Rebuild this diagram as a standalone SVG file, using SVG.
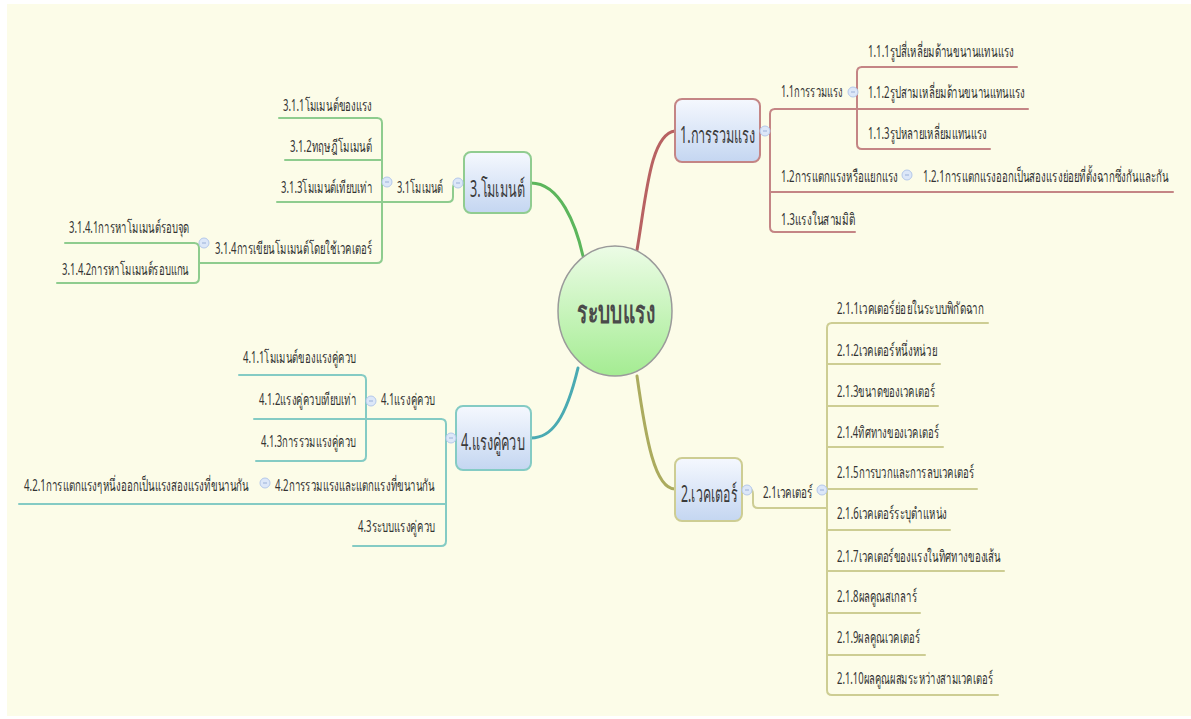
<svg xmlns="http://www.w3.org/2000/svg" width="1191" height="719" viewBox="0 0 1191 719">
  <defs>
    <linearGradient id="boxFill" x1="0" y1="0" x2="0" y2="1">
      <stop offset="0" stop-color="#F5F8FE"/>
      <stop offset="1" stop-color="#C4D6F1"/>
    </linearGradient>
    <linearGradient id="hubFill" x1="0" y1="0" x2="0" y2="1">
      <stop offset="0" stop-color="#ECFCE6"/>
      <stop offset="1" stop-color="#A4EC92"/>
    </linearGradient>
    <symbol id="fold" viewBox="-6 -6 12 12" overflow="visible">
      <circle r="5" fill="#DCE7F8" stroke="#B4C8EA" stroke-width="1"/>
      <line x1="-2" y1="0" x2="2" y2="0" stroke="#9AB0D8" stroke-width="1"/>
    </symbol>
  </defs>
  <style>
    text { font-family: "Noto Sans", "DejaVu Sans", sans-serif; fill: #333333; }
    .sub { font-size: 16px; }
    .topic { font-size: 23px; fill: #3a3a3a; }
    .hub { font-size: 31px; font-weight: bold; fill: #4a4a4a; }
    .box { fill: url(#boxFill); stroke-width: 2; }
    .ln { fill: none; stroke-width: 2; stroke-linecap: round; }
    .main { fill: none; stroke-width: 3; stroke-linecap: round; }
    .r { stroke: #C48585; }
    .g { stroke: #8ECC8E; }
    .t { stroke: #84CBC4; }
    .o { stroke: #CDCD93; }
  </style>

  <!-- page background -->
  <rect x="0" y="0" width="1191" height="719" fill="#FFFFFF"/>
  <rect x="7" y="4" width="1184" height="712" fill="#FCFCE8"/>

  <!-- connectors -->
  <g id="connectors">
    <!-- hub to main topics -->
    <path class="main" stroke="#B86262" d="M637,250 C646,198 650,134 675,131"/>
    <path class="main" stroke="#5CB65C" d="M531,183 C560,183 576,225 583,256"/>
    <path class="main" stroke="#4AAAB2" d="M578,368 C566,418 552,438 531,438"/>
    <path class="main" stroke="#ABAB5E" d="M637,376 C646,440 655,489 675,489"/>

    <!-- 1. branch -->
    <path class="ln r" d="M760,131 H770"/>
    <path class="ln r" d="M775,109 Q770,109 770,114 V227 Q770,232 775,232 H855"/>
    <path class="ln r" d="M775,109 H1028"/>
    <path class="ln r" d="M770,192 H1173"/>
    <path class="ln r" d="M862,67 Q857,67 857,72 V144 Q857,149 862,149 H990"/>
    <path class="ln r" d="M862,67 H1017"/>

    <!-- 3. branch -->
    <path class="ln g" d="M464,183 H457 Q453,183 453,188 V197 Q453,202 448,202 H277"/>
    <path class="ln g" d="M377,118 Q382,118 382,123 V258 Q382,263 377,263 H200"/>
    <path class="ln g" d="M377,118 H279"/>
    <path class="ln g" d="M382,160 H285"/>
    <path class="ln g" d="M194,243 Q199,243 199,248 V278 Q199,283 194,283 H57"/>
    <path class="ln g" d="M194,243 H65"/>

    <!-- 4. branch -->
    <path class="ln t" d="M456,438 H446"/>
    <path class="ln t" d="M441,419 Q446,419 446,424 V541 Q446,546 441,546 H353"/>
    <path class="ln t" d="M441,419 H254"/>
    <path class="ln t" d="M446,504 H19"/>
    <path class="ln t" d="M361,375 Q366,375 366,380 V456 Q366,461 361,461 H256"/>
    <path class="ln t" d="M361,375 H239"/>

    <!-- 2. branch -->
    <path class="ln o" d="M742,489 H749 Q753,489 753,494 V503 Q753,508 758,508 H827"/>
    <path class="ln o" d="M832,323 Q827,323 827,328 V690 Q827,695 832,695 H998"/>
    <path class="ln o" d="M832,323 H988"/>
    <path class="ln o" d="M827,364 H940"/>
    <path class="ln o" d="M827,406 H938"/>
    <path class="ln o" d="M827,447 H943"/>
    <path class="ln o" d="M827,489 H977"/>
    <path class="ln o" d="M827,530 H950"/>
    <path class="ln o" d="M827,571 H1004"/>
    <path class="ln o" d="M827,613 H920"/>
    <path class="ln o" d="M827,655 H925"/>
  </g>

  <!-- central topic -->
  <g id="hub">
    <ellipse cx="615" cy="311" rx="57" ry="65" fill="url(#hubFill)" stroke="#9A9A9A" stroke-width="1.5"/>
    <text class="hub" x="616" y="323" text-anchor="middle" textLength="78" lengthAdjust="spacingAndGlyphs">ระบบแรง</text>
  </g>

  <!-- 1. การรวมแรง -->
  <g id="topic-1">
    <rect class="box" x="675" y="99" width="85" height="63" rx="7" stroke="#C48585"/>
    <text class="topic" x="680" y="143" textLength="75" lengthAdjust="spacingAndGlyphs">1.การรวมแรง</text>
    <use href="#fold" x="759" y="125" width="12" height="12"/>
  </g>
  <g id="topic-1-1">
    <text class="sub" x="781" y="97" textLength="62" lengthAdjust="spacingAndGlyphs">1.1การรวมแรง</text>
    <use href="#fold" x="847" y="86" width="12" height="12"/>
  </g>
  <g id="topic-1-1-1"><text class="sub" x="868" y="57" textLength="146" lengthAdjust="spacingAndGlyphs">1.1.1รูปสี่เหลี่ยมด้านขนานแทนแรง</text></g>
  <g id="topic-1-1-2"><text class="sub" x="868" y="98" textLength="157" lengthAdjust="spacingAndGlyphs">1.1.2รูปสามเหลี่ยมด้านขนานแทนแรง</text></g>
  <g id="topic-1-1-3"><text class="sub" x="868" y="139" textLength="119" lengthAdjust="spacingAndGlyphs">1.1.3รูปหลายเหลี่ยมแทนแรง</text></g>
  <g id="topic-1-2">
    <text class="sub" x="781" y="182" textLength="117" lengthAdjust="spacingAndGlyphs">1.2การแตกแรงหรือแยกแรง</text>
    <use href="#fold" x="901" y="169" width="12" height="12"/>
  </g>
  <g id="topic-1-2-1"><text class="sub" x="923" y="182" textLength="246" lengthAdjust="spacingAndGlyphs">1.2.1การแตกแรงออกเป็นสองแรงย่อยที่ตั้งฉากซึ่งกันและกัน</text></g>
  <g id="topic-1-3"><text class="sub" x="781" y="225" textLength="74" lengthAdjust="spacingAndGlyphs">1.3แรงในสามมิติ</text></g>

  <!-- 3. โมเมนต์ -->
  <g id="topic-3">
    <rect class="box" x="464" y="152" width="67" height="61" rx="7" stroke="#90CC90"/>
    <text class="topic" x="470" y="197" textLength="55" lengthAdjust="spacingAndGlyphs">3.โมเมนต์</text>
    <use href="#fold" x="452" y="177" width="12" height="12"/>
  </g>
  <g id="topic-3-1">
    <text class="sub" x="397" y="193" textLength="46" lengthAdjust="spacingAndGlyphs">3.1โมเมนต์</text>
    <use href="#fold" x="381" y="176" width="12" height="12"/>
  </g>
  <g id="topic-3-1-1"><text class="sub" x="283" y="111" textLength="89" lengthAdjust="spacingAndGlyphs">3.1.1โมเมนต์ของแรง</text></g>
  <g id="topic-3-1-2"><text class="sub" x="290" y="152" textLength="82" lengthAdjust="spacingAndGlyphs">3.1.2ทฤษฎีโมเมนต์</text></g>
  <g id="topic-3-1-3"><text class="sub" x="281" y="193" textLength="91" lengthAdjust="spacingAndGlyphs">3.1.3โมเมนต์เทียบเท่า</text></g>
  <g id="topic-3-1-4">
    <text class="sub" x="215" y="254" textLength="157" lengthAdjust="spacingAndGlyphs">3.1.4การเขียนโมเมนต์โดยใช้เวคเตอร์</text>
    <use href="#fold" x="198" y="237" width="12" height="12"/>
  </g>
  <g id="topic-3-1-4-1"><text class="sub" x="69" y="233" textLength="120" lengthAdjust="spacingAndGlyphs">3.1.4.1การหาโมเมนต์รอบจุด</text></g>
  <g id="topic-3-1-4-2"><text class="sub" x="62" y="275" textLength="127" lengthAdjust="spacingAndGlyphs">3.1.4.2การหาโมเมนต์รอบแกน</text></g>

  <!-- 4. แรงคู่ควบ -->
  <g id="topic-4">
    <rect class="box" x="456" y="406" width="75" height="64" rx="7" stroke="#84CBC4"/>
    <text class="topic" x="461" y="450" textLength="64" lengthAdjust="spacingAndGlyphs">4.แรงคู่ควบ</text>
    <use href="#fold" x="445" y="432" width="12" height="12"/>
  </g>
  <g id="topic-4-1">
    <text class="sub" x="381" y="405" textLength="54" lengthAdjust="spacingAndGlyphs">4.1แรงคู่ควบ</text>
    <use href="#fold" x="365" y="395" width="12" height="12"/>
  </g>
  <g id="topic-4-1-1"><text class="sub" x="243" y="363" textLength="113" lengthAdjust="spacingAndGlyphs">4.1.1โมเมนต์ของแรงคู่ควบ</text></g>
  <g id="topic-4-1-2"><text class="sub" x="259" y="405" textLength="97" lengthAdjust="spacingAndGlyphs">4.1.2แรงคู่ควบเทียบเท่า</text></g>
  <g id="topic-4-1-3"><text class="sub" x="261" y="447" textLength="95" lengthAdjust="spacingAndGlyphs">4.1.3การรวมแรงคู่ควบ</text></g>
  <g id="topic-4-2">
    <text class="sub" x="275" y="491" textLength="160" lengthAdjust="spacingAndGlyphs">4.2การรวมแรงและแตกแรงที่ขนานกัน</text>
    <use href="#fold" x="259" y="477" width="12" height="12"/>
  </g>
  <g id="topic-4-2-1"><text class="sub" x="24" y="491" textLength="225" lengthAdjust="spacingAndGlyphs">4.2.1การแตกแรงๆหนึ่งออกเป็นแรงสองแรงที่ขนานกัน</text></g>
  <g id="topic-4-3"><text class="sub" x="358" y="532" textLength="77" lengthAdjust="spacingAndGlyphs">4.3ระบบแรงคู่ควบ</text></g>

  <!-- 2. เวคเตอร์ -->
  <g id="topic-2">
    <rect class="box" x="675" y="458" width="67" height="63" rx="7" stroke="#CDCD93"/>
    <text class="topic" x="681" y="502" textLength="56" lengthAdjust="spacingAndGlyphs">2.เวคเตอร์</text>
    <use href="#fold" x="741" y="484" width="12" height="12"/>
  </g>
  <g id="topic-2-1">
    <text class="sub" x="763" y="498" textLength="50" lengthAdjust="spacingAndGlyphs">2.1เวคเตอร์</text>
    <use href="#fold" x="816" y="484" width="12" height="12"/>
  </g>
  <g id="topic-2-1-1"><text class="sub" x="837" y="314" textLength="147" lengthAdjust="spacingAndGlyphs">2.1.1เวคเตอร์ย่อยในระบบพิกัดฉาก</text></g>
  <g id="topic-2-1-2"><text class="sub" x="837" y="356" textLength="100" lengthAdjust="spacingAndGlyphs">2.1.2เวคเตอร์หนึ่งหน่วย</text></g>
  <g id="topic-2-1-3"><text class="sub" x="837" y="397" textLength="98" lengthAdjust="spacingAndGlyphs">2.1.3ขนาดของเวคเตอร์</text></g>
  <g id="topic-2-1-4"><text class="sub" x="837" y="438" textLength="102" lengthAdjust="spacingAndGlyphs">2.1.4ทิศทางของเวคเตอร์</text></g>
  <g id="topic-2-1-5"><text class="sub" x="837" y="478" textLength="137" lengthAdjust="spacingAndGlyphs">2.1.5การบวกและการลบเวคเตอร์</text></g>
  <g id="topic-2-1-6"><text class="sub" x="837" y="519" textLength="110" lengthAdjust="spacingAndGlyphs">2.1.6เวคเตอร์ระบุตำแหน่ง</text></g>
  <g id="topic-2-1-7"><text class="sub" x="837" y="562" textLength="164" lengthAdjust="spacingAndGlyphs">2.1.7เวคเตอร์ของแรงในทิศทางของเส้น</text></g>
  <g id="topic-2-1-8"><text class="sub" x="837" y="602" textLength="80" lengthAdjust="spacingAndGlyphs">2.1.8ผลคูณสเกลาร์</text></g>
  <g id="topic-2-1-9"><text class="sub" x="837" y="643" textLength="83" lengthAdjust="spacingAndGlyphs">2.1.9ผลคูณเวคเตอร์</text></g>
  <g id="topic-2-1-10"><text class="sub" x="837" y="684" textLength="156" lengthAdjust="spacingAndGlyphs">2.1.10ผลคูณผสมระหว่างสามเวคเตอร์</text></g>
</svg>
